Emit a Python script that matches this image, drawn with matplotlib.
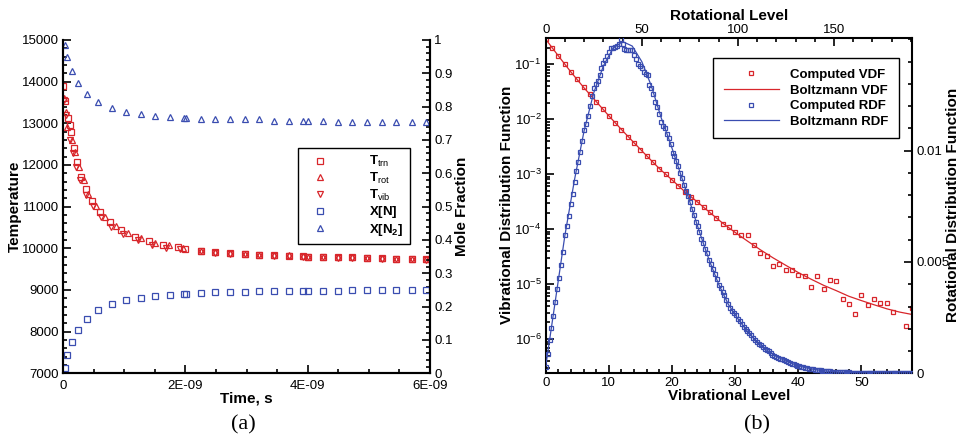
import numpy as np
import matplotlib.pyplot as plt
from matplotlib.ticker import MultipleLocator, FixedLocator, FixedFormatter, LogLocator, NullFormatter
from matplotlib.lines import Line2D

plt.rcParams['font.family'] = ['Liberation Sans', 'DejaVu Sans']
plt.rcParams['mathtext.fontset'] = 'custom'
plt.rcParams['mathtext.rm'] = 'Liberation Sans'
plt.rcParams['mathtext.bf'] = 'Liberation Sans:bold'
plt.rcParams['mathtext.it'] = 'Liberation Sans:italic'

RED = '#d8262b'
BLUE = '#3a4db0'

# ---------------- (a) relaxation, time in 1e-9 s ----------------
t_trn = [0.0, 0.03, 0.08, 0.11, 0.13, 0.175, 0.235, 0.30, 0.383, 0.475, 0.61, 0.775, 0.955,
         1.17, 1.41, 1.64, 1.88, 2.0, 2.25, 2.49, 2.73, 2.97, 3.21, 3.45, 3.69, 3.93, 4.01,
         4.25, 4.49, 4.73, 4.97, 5.21, 5.45, 5.70, 5.94]
T_trn = [13890, 13540, 13120, 12960, 12780, 12400, 12060, 11720, 11420, 11140, 10860, 10620, 10440,
         10280, 10175, 10080, 10025, 9985, 9935, 9905, 9880, 9863, 9847, 9832, 9825, 9805, 9800,
         9790, 9784, 9780, 9770, 9765, 9752, 9748, 9736]

t_rot = [0.01, 0.044, 0.066, 0.154, 0.19, 0.262, 0.34, 0.41, 0.535, 0.68, 0.873, 1.064, 1.28,
         1.5, 1.735, 1.96, 2.25, 2.49, 2.73, 2.97, 3.21, 3.45, 3.69, 3.93, 4.01, 4.25, 4.49,
         4.73, 4.97, 5.21, 5.45, 5.70, 5.94]
T_rot = [13600, 13280, 12920, 12600, 12320, 11945, 11640, 11300, 11015, 10745, 10535, 10360, 10240,
         10120, 10080, 10000, 9940, 9908, 9885, 9868, 9850, 9835, 9828, 9808, 9803, 9792, 9786,
         9782, 9772, 9768, 9755, 9750, 9738]

t_vib = [0.02, 0.05, 0.11, 0.16, 0.22, 0.285, 0.37, 0.49, 0.628, 0.79, 0.98, 1.23, 1.46, 1.69,
         1.92, 2.25, 2.49, 2.73, 2.97, 3.21, 3.45, 3.69, 3.93, 4.01, 4.25, 4.49, 4.73, 4.97,
         5.21, 5.45, 5.70, 5.94]
T_vib = [13550, 13200, 12600, 12280, 11945, 11640, 11280, 11015, 10745, 10520, 10345, 10200, 10080,
         10000, 9975, 9925, 9895, 9870, 9853, 9838, 9822, 9815, 9795, 9790, 9780, 9775, 9770,
         9760, 9755, 9742, 9738, 9726]

t_x = [0.03, 0.07, 0.15, 0.25, 0.39, 0.58, 0.80, 1.03, 1.27, 1.51, 1.75, 1.98, 2.01, 2.25, 2.49,
       2.73, 2.97, 3.21, 3.45, 3.69, 3.93, 4.01, 4.25, 4.49, 4.73, 4.97, 5.21, 5.45, 5.70, 5.94]
x_n2 = [0.985, 0.948, 0.908, 0.872, 0.839, 0.814, 0.795, 0.784, 0.778, 0.772, 0.768, 0.766, 0.766,
        0.764, 0.763, 0.762, 0.762, 0.762, 0.757, 0.757, 0.757, 0.757, 0.756, 0.755, 0.755, 0.755,
        0.755, 0.755, 0.755, 0.755]
x_n = [0.017, 0.055, 0.094, 0.131, 0.163, 0.190, 0.207, 0.219, 0.226, 0.231, 0.234, 0.238, 0.238,
       0.241, 0.243, 0.244, 0.245, 0.246, 0.246, 0.247, 0.247, 0.247, 0.248, 0.248, 0.249, 0.249,
       0.249, 0.249, 0.249, 0.250]

time_ticks = [0, 2e-9, 4e-9, 6e-9]
time_labels = ['0', '2E-09', '4E-09', '6E-09']
frac_ticks = [0, 0.1, 0.2, 0.3, 0.4, 0.5, 0.6, 0.7, 0.8, 0.9, 1]
frac_labels = ['0', '0.1', '0.2', '0.3', '0.4', '0.5', '0.6', '0.7', '0.8', '0.9', '1']

# ---------------- (b) distributions ----------------
# computed VDF, vibrational levels 0..58 (nan = not visible)
vdf_computed = [2.85e-1, 2.0e-1, 1.42e-1, 1.01e-1, 7.2e-2, 5.3e-2, 3.8e-2, 2.85e-2, 2.09e-2, 1.52e-2,
                1.15e-2, 8.45e-3, 6.47e-3, 4.83e-3, 3.71e-3, 2.8e-3, 2.15e-3, 1.65e-3, 1.26e-3, 1.0e-3,
                7.87e-4, 6.12e-4, 4.83e-4, 3.92e-4, 3.13e-4, 2.51e-4, 2.05e-4, 1.62e-4, 1.25e-4, 1.08e-4,
                8.9e-5, 7.9e-5, 7.8e-5, 5.2e-5, 3.7e-5, 3.2e-5, 2.1e-5, 2.3e-5, 1.77e-5, 1.82e-5,
                1.48e-5, 1.4e-5, 8.9e-6, 1.4e-5, 8.3e-6, 1.2e-5, 1.15e-5, 5.4e-6, 4.3e-6, 2.85e-6,
                6.3e-6, 4.2e-6, 5.4e-6, 4.5e-6, 4.5e-6, 3.1e-6, np.nan, 1.7e-6, 3.65e-6]
vdf_levels_line = [0, 2, 4, 6, 8, 10, 12, 14, 16, 18, 20, 22, 24, 26, 28, 30, 32, 34, 36, 38,
                   40, 42, 44, 46, 48, 50, 52, 54, 56, 58]
vdf_boltzmann = [2.85e-1, 1.42e-1, 7.2e-2, 3.8e-2, 2.09e-2, 1.15e-2, 6.47e-3, 3.71e-3, 2.15e-3, 1.26e-3,
                 7.87e-4, 4.83e-4, 3.13e-4, 2.0e-4, 1.29e-4, 8.7e-5, 6.0e-5, 4.2e-5, 3.0e-5, 2.2e-5,
                 1.62e-5, 1.23e-5, 9.5e-6, 7.6e-6, 6.0e-6, 5.0e-6, 4.2e-6, 3.55e-6, 3.1e-6, 2.8e-6]

# computed RDF (units of 1e-3), rotational levels 0..190
rdf_computed = [0.30, 0.88, 1.50, 2.05, 2.58, 3.20, 3.80, 4.30, 4.85, 5.45,
                6.20, 6.60, 7.05, 7.60, 8.05, 8.60, 9.10, 9.50, 9.95, 10.45,
                10.95, 11.20, 11.55, 12.00, 12.45, 12.80, 13.00, 13.15, 13.40, 13.70,
                13.95, 14.05, 14.25, 14.45, 14.60, 14.62, 14.66, 14.72, 14.78, 15.00,
                14.80, 14.55, 14.50, 14.52, 14.50, 14.52, 14.30, 14.12, 13.90, 13.80,
                13.70, 13.55, 13.45, 13.40, 12.95, 12.80, 12.55, 12.20, 11.95, 11.65,
                11.30, 11.10, 11.00, 10.75, 10.55, 10.30, 9.90, 9.75, 9.55, 9.30,
                9.00, 8.75, 8.45, 8.20, 7.95, 7.70, 7.40, 7.10, 6.80, 6.60,
                6.35, 6.05, 5.85, 5.60, 5.40, 5.10, 4.90, 4.70, 4.45, 4.25,
                3.98, 3.82, 3.65, 3.50, 3.30, 3.12, 2.95, 2.82, 2.70, 2.60,
                2.45, 2.33, 2.22, 2.10, 1.98, 1.88, 1.80, 1.70, 1.60, 1.50,
                1.42, 1.32, 1.25, 1.18, 1.10, 1.04, 0.98, 0.90, 0.84, 0.78,
                0.74, 0.70, 0.65, 0.62, 0.58, 0.54, 0.50, 0.46, 0.43, 0.40,
                0.37, 0.34, 0.32, 0.30, 0.28, 0.26, 0.24, 0.21, 0.19, 0.18,
                0.17, 0.16, 0.15, 0.13, 0.12, 0.11, 0.10, 0.095, 0.09, 0.08,
                0.075, 0.07, 0.065, 0.06, 0.055, 0.05, 0.045, 0.04, 0.038, 0.035,
                0.03, 0.028, 0.026, 0.024, 0.022, 0.02, 0.018, 0.016, 0.014, 0.013,
                0.012, 0.011, 0.010, 0.009, 0.008, 0.007, 0.006, 0.006, 0.005, 0.005,
                0.004, 0.004, 0.003, 0.003, 0.003, 0.002, 0.002, 0.002, 0.002, 0.001,
                0.001]
rdf_levels_line = [0, 5, 10, 15, 20, 25, 30, 35, 40, 45, 50, 55, 60, 65, 70, 75, 80, 85, 90, 95,
                   100, 105, 110, 115, 120, 125, 130, 135, 140, 145, 150, 155, 160, 165, 170, 175,
                   180, 185, 190]
rdf_boltzmann = [0.30, 3.25, 6.2, 8.7, 10.9, 12.6, 13.8, 14.6, 14.9, 14.7, 14.0, 12.9, 11.5, 10.3,
                 9.0, 7.7, 6.35, 5.1, 4.0, 3.1, 2.45, 1.88, 1.4, 1.04, 0.76, 0.55, 0.38, 0.26, 0.17,
                 0.11, 0.07, 0.045, 0.028, 0.017, 0.01, 0.006, 0.003, 0.002, 0.001]

W, H = 961, 440
fig = plt.figure(figsize=(W / 100, H / 100), dpi=100)


def box(x0, y0, x1, y1):
    # pixel box (from top-left) -> figure fraction rect
    return [x0 / W, 1 - y1 / H, (x1 - x0) / W, (y1 - y0) / H]


def ftext(x, y, s, **kw):
    fig.text(x / W, 1 - y / H, s, ha='center', va='center', **kw)


def style_ticks(ax, pad=3):
    ax.tick_params(which='both', direction='in', labelsize=9.5, width=1.2, pad=pad)
    ax.tick_params(which='major', length=6)
    ax.tick_params(which='minor', length=3)


LBL = dict(fontsize=11, fontweight='bold')

# ---------- panel (a) ----------
ax_t = fig.add_axes(box(63, 40, 430, 373.3))
mk = dict(ls='none', mfc='none', mew=0.9, ms=5)
h_trn, = ax_t.plot(np.array(t_trn) * 1e-9, T_trn, marker='s', mec=RED, **mk)
h_rot, = ax_t.plot(np.array(t_rot) * 1e-9, T_rot, marker='^', mec=RED, **mk)
h_vib, = ax_t.plot(np.array(t_vib) * 1e-9, T_vib, marker='v', mec=RED, **mk)
ax_t.set_xlim(0, 6e-9)
ax_t.set_ylim(7000, 15000)
ax_t.xaxis.set_major_locator(FixedLocator(time_ticks))
ax_t.xaxis.set_major_formatter(FixedFormatter(time_labels))
ax_t.xaxis.set_minor_locator(MultipleLocator(0.5e-9))
ax_t.yaxis.set_major_locator(MultipleLocator(1000))
ax_t.yaxis.set_minor_locator(MultipleLocator(200))
style_ticks(ax_t)
ax_t.tick_params(top=False, right=False)
ax_t.tick_params(axis='x', pad=5)

ax_x = ax_t.twinx()
h_n, = ax_x.plot(np.array(t_x) * 1e-9, x_n, marker='s', mec=BLUE, **mk)
h_n2, = ax_x.plot(np.array(t_x) * 1e-9, x_n2, marker='^', mec=BLUE, **mk)
ax_x.set_ylim(0, 1)
ax_x.yaxis.set_major_locator(FixedLocator(frac_ticks))
ax_x.yaxis.set_major_formatter(FixedFormatter(frac_labels))
ax_x.yaxis.set_minor_locator(MultipleLocator(0.02))
style_ticks(ax_x)
for a in (ax_t, ax_x):
    a.spines['top'].set_visible(False)
    for s in ('left', 'right', 'bottom'):
        a.spines[s].set_linewidth(1.5)

leg_a = ax_x.legend([h_trn, h_rot, h_vib, h_n, h_n2],
                    [r'$\mathbf{T}_{\mathrm{trn}}$', r'$\mathbf{T}_{\mathrm{rot}}$',
                     r'$\mathbf{T}_{\mathrm{vib}}$', r'$\mathbf{X[N]}$',
                     r'$\mathbf{X[N}_{\mathbf{2}}\mathbf{]}$'],
                    loc='upper left', bbox_to_anchor=(0.64, 0.677), borderaxespad=0,
                    fontsize=9.5, handlelength=2.3, handletextpad=2.6, labelspacing=0.12,
                    borderpad=0.5, fancybox=False, edgecolor='black', framealpha=1,
                    markerscale=0.85)
leg_a.get_frame().set_linewidth(1.0)

ftext(15, 206, 'Temperature', rotation=90, **LBL)
ftext(462, 206, 'Mole Fraction', rotation=90, **LBL)
ftext(246, 398, 'Time, s', **LBL)
ftext(243, 425, '(a)', fontsize=16, family='Liberation Serif')

# ---------- panel (b) ----------
rect_b = box(545.7, 38, 912, 373.3)
ax_v = fig.add_axes(rect_b)
ax_v.set_yscale('log')
ax_v.plot(vdf_levels_line, vdf_boltzmann, color=RED, lw=0.9)
ax_v.plot(np.arange(len(vdf_computed)), vdf_computed, ls='none', marker='s', mfc='none',
          mec=RED, mew=0.9, ms=3.4)
ax_v.set_xlim(0, 58)
ax_v.set_ylim(2.38e-7, 0.30)
ax_v.xaxis.set_major_locator(MultipleLocator(10))
ax_v.xaxis.set_minor_locator(MultipleLocator(2))
ax_v.yaxis.set_major_locator(LogLocator(base=10, numticks=20))
ax_v.yaxis.set_minor_locator(LogLocator(base=10, subs=np.arange(2, 10), numticks=20))
ax_v.yaxis.set_minor_formatter(NullFormatter())
style_ticks(ax_v)
ax_v.tick_params(top=False, right=False)

ax_r = fig.add_axes(rect_b, frameon=False)
ax_r.plot(rdf_levels_line, np.array(rdf_boltzmann) * 1e-3, color=BLUE, lw=0.9)
ax_r.plot(np.arange(len(rdf_computed)), np.array(rdf_computed) * 1e-3, ls='none', marker='s',
          mfc='none', mec=BLUE, mew=0.9, ms=3.4)
ax_r.set_xlim(0, 190.6)
ax_r.set_ylim(0, 0.01506)
ax_r.xaxis.tick_top()
ax_r.xaxis.set_label_position('top')
ax_r.yaxis.tick_right()
ax_r.yaxis.set_label_position('right')
ax_r.xaxis.set_major_locator(MultipleLocator(50))
ax_r.xaxis.set_minor_locator(MultipleLocator(10))
ax_r.yaxis.set_major_locator(FixedLocator([0, 0.005, 0.01]))
ax_r.yaxis.set_major_formatter(FixedFormatter(['0', '0.005', '0.01']))
ax_r.yaxis.set_minor_locator(MultipleLocator(0.001))
style_ticks(ax_r)
ax_r.tick_params(axis='x', pad=1.5)
for s in ax_v.spines.values():
    s.set_linewidth(1.5)

handles_b = [Line2D([], [], ls='none', marker='s', mfc='none', mec=RED, mew=0.9, ms=3.4),
             Line2D([], [], color=RED, lw=0.9),
             Line2D([], [], ls='none', marker='s', mfc='none', mec=BLUE, mew=0.9, ms=3.4),
             Line2D([], [], color=BLUE, lw=0.9)]
leg_b = ax_r.legend(handles_b, ['Computed VDF', 'Boltzmann VDF', 'Computed RDF', 'Boltzmann RDF'],
                    loc='upper left', bbox_to_anchor=(0.457, 0.94), borderaxespad=0,
                    prop={'size': 9.5, 'weight': 'bold'}, handlelength=4.2, handletextpad=0.85,
                    labelspacing=0.26, borderpad=0.8, fancybox=False, edgecolor='black',
                    framealpha=1)
leg_b.get_frame().set_linewidth(1.0)

ftext(729, 396, 'Vibrational Level', **LBL)
ftext(729, 16, 'Rotational Level', **LBL)
ftext(507, 205, 'Vibrational Distribution Function', rotation=90, **LBL)
ftext(953, 205, 'Rotational Distribution Function', rotation=90, **LBL)
ftext(757, 425, '(b)', fontsize=16, family='Liberation Serif')

fig.savefig('out.png', dpi=100)
